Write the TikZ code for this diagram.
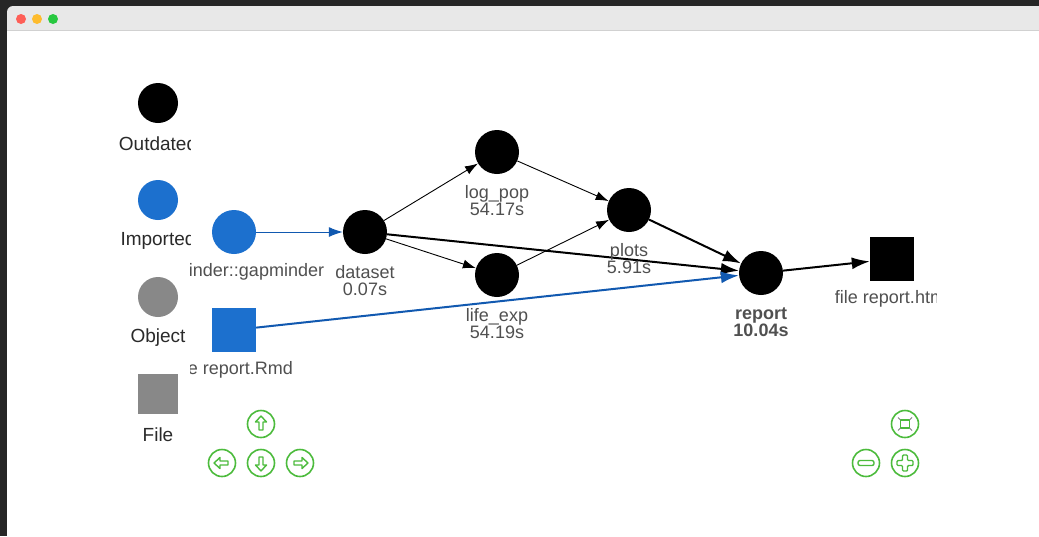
\documentclass[tikz,border=0pt]{standalone}
\usepackage{fontspec}
\setmainfont{Liberation Sans}
\usetikzlibrary{arrows.meta}
\definecolor{bgdark}{HTML}{262626}
\definecolor{titlebar}{HTML}{E8E8E8}
\definecolor{impblue}{HTML}{1C70CE}
\definecolor{edgeblue}{HTML}{1159B0}
\definecolor{objgray}{HTML}{888888}
\definecolor{labgray}{HTML}{505050}
\definecolor{leggray}{HTML}{2A2A2A}
\definecolor{ctlgreen}{HTML}{4CBB3C}
\definecolor{tlred}{HTML}{FE5F57}
\definecolor{tlyellow}{HTML}{FEBC2E}
\definecolor{tlgreen}{HTML}{28C840}
\begin{document}
\begin{tikzpicture}[x=1pt,y=-1pt,
  outdated/.style={circle,fill=black,minimum size=44pt,inner sep=0pt},
  imported/.style={circle,fill=impblue,minimum size=44pt,inner sep=0pt},
  outfile/.style={rectangle,fill=black,minimum size=44pt,inner sep=0pt},
  impfile/.style={rectangle,fill=impblue,minimum size=44pt,inner sep=0pt},
  legcirc/.style={circle,minimum size=40pt,inner sep=0pt},
  legsq/.style={rectangle,minimum size=40pt,inner sep=0pt},
  leglab/.style={font=\fontsize{19}{19}\selectfont,text=leggray,inner sep=0pt},
  nodelab/.style={font=\fontsize{18}{17}\selectfont,text=labgray,align=center,inner sep=0pt},
  thinedge/.style={draw=black,line width=0.9pt,-{Latex[length=13pt,width=9pt]}},
  thickedge/.style={draw=black,line width=2pt,-{Latex[length=18pt,width=12pt]}},
  blueedge/.style={draw=edgeblue,line width=1pt,-{Latex[length=14pt,width=10pt]}},
  bluethick/.style={draw=edgeblue,line width=2pt,-{Latex[length=18pt,width=12pt]}},
  ctl/.style={draw=ctlgreen,line width=1.6pt},
  ctlin/.style={draw=ctlgreen,line width=1.4pt,line join=round}
]
\useasboundingbox (0,0) rectangle (1039,536);
\fill[bgdark] (0,0) rectangle (1039,536);
% window
\begin{scope}
\clip (0,0) rectangle (1039,536);
\fill[titlebar,rounded corners=6pt] (7,6) rectangle (1060,50);
\end{scope}
\fill[white] (7,30) rectangle (1039,536);
\draw[color=black!18,line width=0.8pt] (7,30) -- (1039,30);
\fill[tlred] (21,19) circle (5);
\fill[tlyellow] (37,19) circle (5);
\fill[tlgreen] (53,19) circle (5);

% legend
\node[legcirc,fill=black] (lgout) at (158,103) {};
\node[legcirc,fill=impblue] (lgimp) at (158,200) {};
\node[legcirc,fill=objgray] (lgobj) at (158,297) {};
\node[legsq,fill=objgray] (lgfile) at (158,394) {};
\begin{scope}
\clip (100,120) rectangle (190,450);
\node[leglab] (lgoutl) at (158,144) {Outdated};
\node[leglab] (lgimpl) at (158,241) {Imported};
\node[leglab] (lgobjl) at (158,338) {Object};
\node[leglab] (lgfilel) at (158,435) {File};
\end{scope}

% graph nodes
\node[imported] (gap) at (234,232) {};
\node[impfile] (rmd) at (234,330) {};
\node[outdated] (dataset) at (365,232) {};
\node[outdated] (logpop) at (497,152) {};
\node[outdated] (lifeexp) at (497,275) {};
\node[outdated] (plots) at (629,210) {};
\node[outdated] (report) at (761,273) {};
\node[outfile] (html) at (892,259) {};

% edges
\draw[blueedge] (gap) -- (dataset);
\draw[thinedge] (dataset) -- (logpop);
\draw[thinedge] (dataset) -- (lifeexp);
\draw[thinedge] (logpop) -- (plots);
\draw[thinedge] (lifeexp) -- (plots);
\draw[thickedge] (dataset) -- (report);
\draw[thickedge] (plots) -- (report);
\draw[bluethick] (rmd) -- (report);
\draw[thickedge] (report) -- (html);

% labels
\begin{scope}
\clip (190,60) rectangle (936,400);
\node[nodelab] (gapl) at (234,272) {gapminder::gapminder};
\node[nodelab] (rmdl) at (234,370) {file report.Rmd};
\node[nodelab] (datasetl) at (365,281) {dataset\\0.07s};
\node[nodelab] (logpopl) at (497,201) {log\_pop\\54.17s};
\node[nodelab] (lifeexpl) at (497,324) {life\_exp\\54.19s};
\node[nodelab] (plotsl) at (629,259) {plots\\5.91s};
\node[nodelab,font=\fontsize{18}{17}\selectfont\bfseries] (reportl) at (761,322) {report\\10.04s};
\node[nodelab] (htmll) at (892,299) {file report.html};
\end{scope}

% navigation controls
\node[circle,ctl,minimum size=27pt,inner sep=0pt] (up) at (261,424) {};
\node[circle,ctl,minimum size=27pt,inner sep=0pt] (left) at (222,463) {};
\node[circle,ctl,minimum size=27pt,inner sep=0pt] (down) at (261,463) {};
\node[circle,ctl,minimum size=27pt,inner sep=0pt] (right) at (300,463) {};
\node[circle,ctl,minimum size=27pt,inner sep=0pt] (fit) at (905,424) {};
\node[circle,ctl,minimum size=27pt,inner sep=0pt] (zout) at (866,463) {};
\node[circle,ctl,minimum size=27pt,inner sep=0pt] (zin) at (905,463) {};
% arrow glyphs
\draw[ctlin] ([shift={(0,-8)}]up.center) -- ++(5.5,6) -- ++(-3.5,0) -- ++(0,8) -- ++(-4,0) -- ++(0,-8) -- ++(-3.5,0) -- cycle;
\draw[ctlin] ([shift={(0,8)}]down.center) -- ++(5.5,-6) -- ++(-3.5,0) -- ++(0,-8) -- ++(-4,0) -- ++(0,8) -- ++(-3.5,0) -- cycle;
\draw[ctlin] ([shift={(-8,0)}]left.center) -- ++(6,5.5) -- ++(0,-3.5) -- ++(8,0) -- ++(0,-4) -- ++(-8,0) -- ++(0,-3.5) -- cycle;
\draw[ctlin] ([shift={(8,0)}]right.center) -- ++(-6,5.5) -- ++(0,-3.5) -- ++(-8,0) -- ++(0,-4) -- ++(8,0) -- ++(0,-3.5) -- cycle;
% zoom glyphs
\draw[ctlin,rounded corners=2pt] ([shift={(-8,-2.5)}]zout.center) rectangle ([shift={(8,2.5)}]zout.center);
\draw[ctlin,rounded corners=1pt] ([shift={(-2.5,-8)}]zin.center) -- ([shift={(2.5,-8)}]zin.center) -- ([shift={(2.5,-2.5)}]zin.center) -- ([shift={(8,-2.5)}]zin.center) -- ([shift={(8,2.5)}]zin.center) -- ([shift={(2.5,2.5)}]zin.center) -- ([shift={(2.5,8)}]zin.center) -- ([shift={(-2.5,8)}]zin.center) -- ([shift={(-2.5,2.5)}]zin.center) -- ([shift={(-8,2.5)}]zin.center) -- ([shift={(-8,-2.5)}]zin.center) -- ([shift={(-2.5,-2.5)}]zin.center) -- cycle;
\draw[ctlin] ([shift={(-4.5,-4)}]fit.center) rectangle ([shift={(4.5,4)}]fit.center);
\draw[color=gray,line width=1pt] ([shift={(-4.5,-4)}]fit.center) -- ++(-2.5,-2.5);
\draw[color=gray,line width=1pt] ([shift={(4.5,-4)}]fit.center) -- ++(2.5,-2.5);
\draw[color=gray,line width=1pt] ([shift={(-4.5,4)}]fit.center) -- ++(-2.5,2.5);
\draw[color=gray,line width=1pt] ([shift={(4.5,4)}]fit.center) -- ++(2.5,2.5);
\end{tikzpicture}
\end{document}
